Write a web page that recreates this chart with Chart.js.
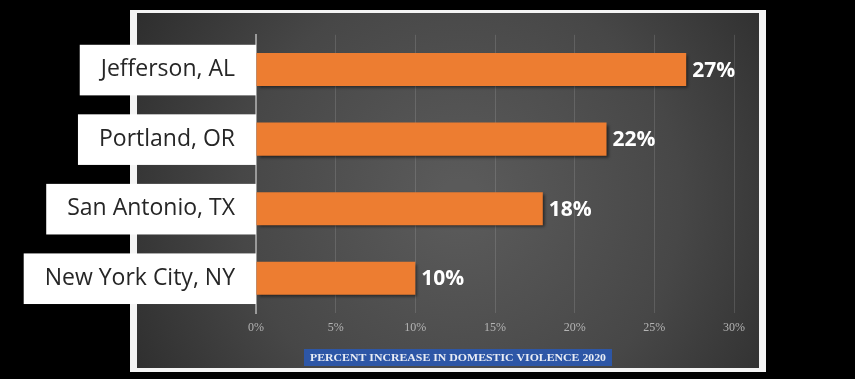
<!DOCTYPE html>
<html>
<head>
<meta charset="utf-8">
<script src="https://cdn.jsdelivr.net/npm/chart.js@4/dist/chart.umd.min.js"></script>
<style>
  html, body { margin: 0; padding: 0; background: #000; }
  #wrap { width: 855px; height: 379px; }
</style>
</head>
<body>
<div id="wrap"><canvas id="c" width="855" height="379"></canvas></div>
<script>
const categories = ['Jefferson, AL', 'Portland, OR', 'San Antonio, TX', 'New York City, NY'];
const increasePct = [27, 22, 18, 10];
const xTickMin = 0;
const xTickMax = 30;
const xTickStep = 5;
const chartTitle = 'PERCENT INCREASE IN DOMESTIC VIOLENCE 2020';

const framePlugin = {
  id: 'frame',
  beforeDraw(chart) {
    const ctx = chart.ctx;
    ctx.save();
    ctx.fillStyle = '#000';
    ctx.fillRect(0, 0, chart.width, chart.height);
    ctx.fillStyle = '#f4f4f4';
    ctx.fillRect(130, 10, 636, 362);
    const g = ctx.createRadialGradient(460, 200, 20, 460, 200, 420);
    g.addColorStop(0, '#5a5a5a');
    g.addColorStop(0.5, '#474747');
    g.addColorStop(1, '#262626');
    ctx.fillStyle = g;
    ctx.fillRect(137, 13, 622, 355);
    ctx.restore();
  }
};

const barDecor = {
  id: 'barDecor',
  beforeDatasetsDraw(chart) {
    const ctx = chart.ctx;
    ctx.save();
    ctx.shadowColor = 'rgba(0,0,0,0.55)';
    ctx.shadowOffsetX = 2;
    ctx.shadowOffsetY = 2;
    ctx.shadowBlur = 3;
  },
  afterDatasetsDraw(chart) {
    const ctx = chart.ctx;
    ctx.restore();
    ctx.save();
    ctx.fillStyle = '#ffffff';
    ctx.font = 'bold 21px "Open Sans"';
    ctx.textAlign = 'left';
    ctx.textBaseline = 'middle';
    const meta = chart.getDatasetMeta(0);
    meta.data.forEach((el, i) => {
      ctx.fillText(increasePct[i] + '%', el.x + 6, el.y + 1);
    });
    ctx.restore();
  }
};

const titleBox = {
  id: 'titleBox',
  afterDraw(chart) {
    const ctx = chart.ctx;
    ctx.save();
    ctx.fillStyle = '#2d56a6';
    ctx.fillRect(304, 349, 308, 17);
    ctx.font = 'bold 11px "Liberation Serif"';
    const w = ctx.measureText(chartTitle).width;
    const target = 296;
    ctx.translate(458, 358);
    ctx.scale(target / w, 1);
    ctx.fillStyle = '#e8ecf5';
    ctx.textAlign = 'center';
    ctx.textBaseline = 'middle';
    ctx.fillText(chartTitle, 0, 0);
    ctx.restore();
  }
};

new Chart(document.getElementById('c'), {
  type: 'bar',
  data: {
    labels: categories,
    datasets: [{
      data: increasePct,
      backgroundColor: '#ED7D31',
      borderWidth: 0,
      barPercentage: 0.95,
      categoryPercentage: 0.5
    }]
  },
  options: {
    indexAxis: 'y',
    responsive: false,
    animation: false,
    devicePixelRatio: 1,
    layout: { padding: { left: 0, right: 121, top: 28, bottom: 46 } },
    plugins: { legend: { display: false }, tooltip: { enabled: false }, title: { display: false } },
    scales: {
      x: {
        min: xTickMin,
        max: xTickMax,
        afterFit(scale) { scale.height = 20; },
        ticks: {
          stepSize: xTickStep,
          callback: (v) => v + '%',
          color: '#b4b4b4',
          font: { family: '"Liberation Serif"', size: 12 },
          padding: 8
        },
        grid: { color: 'rgba(255,255,255,0.13)', lineWidth: 1, drawTicks: false },
        border: { display: false }
      },
      y: {
        afterFit(scale) { scale.width = 256; },
        ticks: {
          color: '#262626',
          font: { family: '"Open Sans"', size: 23 },
          padding: 21,
          showLabelBackdrop: true,
          backdropColor: '#ffffff',
          backdropPadding: { left: 21, right: 21, top: 11, bottom: 12 }
        },
        grid: { display: false, drawTicks: false },
        border: { display: true, color: '#9a9a9a', width: 2 }
      }
    }
  },
  plugins: [framePlugin, barDecor, titleBox]
});
</script>
</body>
</html>
